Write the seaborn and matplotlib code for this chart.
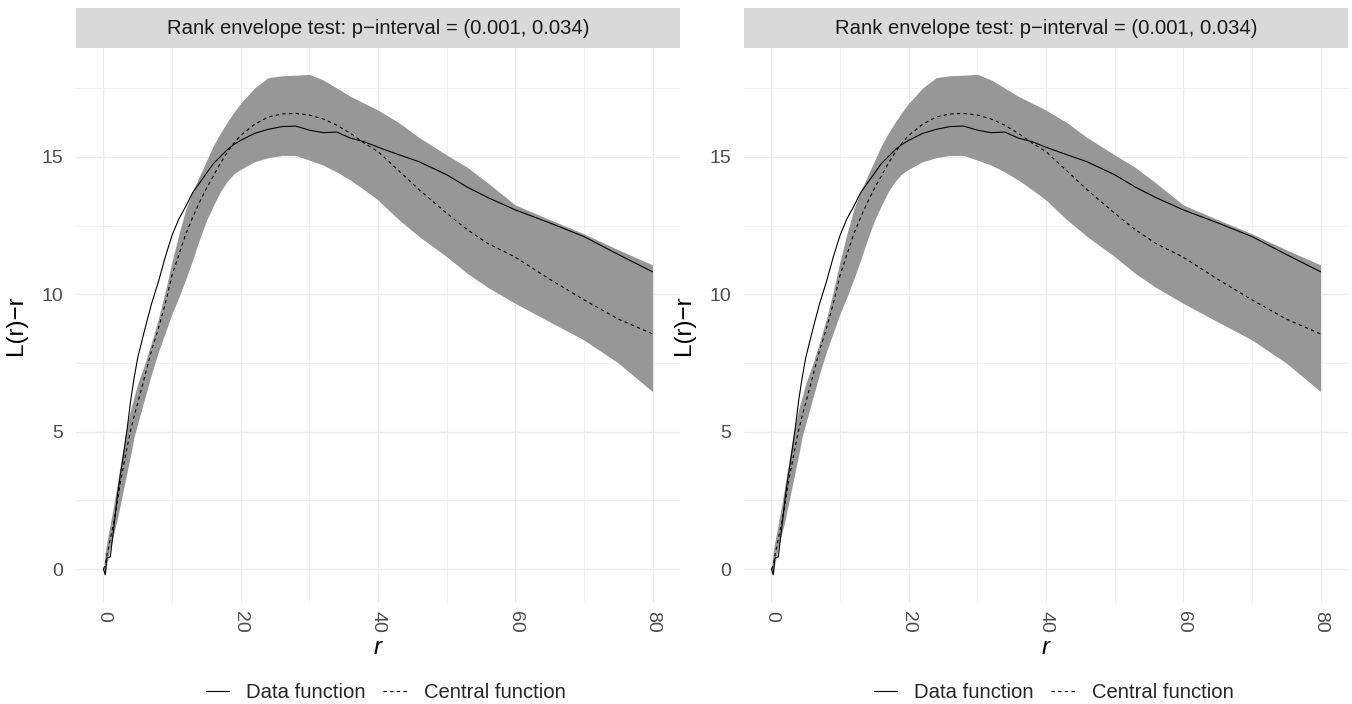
import numpy as np
import pandas as pd
import matplotlib
matplotlib.use("Agg")
import matplotlib.pyplot as plt
import seaborn as sns
from matplotlib.ticker import MultipleLocator

# ---------------- data ----------------
r_vals = [0, 0.25, 0.5, 1, 1.5, 2, 2.5, 3, 3.5, 4, 4.5, 5, 6, 7, 8, 9, 10, 11, 12,
          13, 14, 15, 16, 17, 18, 19, 20, 22, 24, 26, 28, 30, 32, 34, 36, 38, 40,
          43, 46, 50, 53, 56, 60, 65, 70, 75, 80]

data_function = [0.0, -0.2, 0.4, 0.45, 1.5, 2.6, 3.5, 4.3, 5.2, 6.2, 7.0, 7.7, 8.7,
                 9.65, 10.45, 11.35, 12.15, 12.75, 13.2, 13.7, 14.05, 14.4, 14.75, 15.0,
                 15.25, 15.45, 15.6, 15.85, 16.0, 16.1, 16.12, 15.97, 15.88, 15.9,
                 15.68, 15.55, 15.35, 15.08, 14.82, 14.35, 13.9, 13.52, 13.07, 12.6,
                 12.1, 11.45, 10.82]

central_function = [0.0, 0.15, 0.5, 1.1, 1.7, 2.4, 3.2, 3.85, 4.5, 5.1, 5.6, 6.05, 7.0,
                    7.95, 8.75, 9.65, 10.7, 11.45, 12.2, 12.8, 13.35, 13.85, 14.3,
                    14.75, 15.15, 15.5, 15.78, 16.18, 16.45, 16.56, 16.58, 16.52, 16.38,
                    16.15, 15.85, 15.5, 15.19, 14.5, 13.8, 12.95, 12.35, 11.85, 11.35,
                    10.55, 9.8, 9.1, 8.56]

envelope_upper = [0.0, 0.6, 1.0, 1.65, 2.35, 3.1, 3.85, 4.6, 5.3, 5.85, 6.3, 6.75, 7.45,
                  8.25, 9.1, 10.1, 11.2, 12.2, 13.1, 13.75, 14.3, 14.85, 15.4, 15.85,
                  16.25, 16.62, 16.95, 17.5, 17.88, 17.95, 17.97, 18.0, 17.8, 17.5, 17.2,
                  16.95, 16.7, 16.25, 15.7, 15.07, 14.62, 14.05, 13.25, 12.72, 12.2,
                  11.62, 11.07]

envelope_lower = [0.0, -0.25, 0.2, 0.8, 1.3, 1.8, 2.4, 3.0, 3.6, 4.2, 4.85, 5.3, 6.2,
                  7.1, 7.9, 8.6, 9.3, 9.9, 10.55, 11.25, 12.0, 12.68, 13.22, 13.72, 14.1,
                  14.38, 14.55, 14.82, 14.97, 15.05, 15.05, 14.88, 14.7, 14.45, 14.15,
                  13.8, 13.43, 12.72, 12.1, 11.37, 10.76, 10.25, 9.67, 9.0, 8.34, 7.5,
                  6.46]

x_ticks = [0, 20, 40, 60, 80]
y_ticks = [0, 5, 10, 15]
strip_title = "Rank envelope test: p\u2212interval = (0.001, 0.034)"
series_labels = ["Data function", "Central function"]

df = pd.DataFrame({"r": r_vals, "data": data_function, "central": central_function,
                   "lo": envelope_lower, "hi": envelope_upper})

# ---------------- styling ----------------
sns.set_theme(style="white")
plt.rcParams["font.family"] = ["Liberation Sans", "DejaVu Sans"]

W, H = 1352, 704
fig = plt.figure(figsize=(W / 100, H / 100), dpi=100)

panel_left_px = [76, 744]
panel_w, top_px, bot_px = 604, 47.7, 603
strip_h = 39.4

for x0 in panel_left_px:
    ax = fig.add_axes([x0 / W, (H - bot_px) / H, panel_w / W, (bot_px - top_px) / H])
    ax.fill_between(df["r"], df["lo"], df["hi"], color="#979797", lw=0, zorder=2)
    sns.lineplot(data=df, x="r", y="data", ax=ax, color="black", lw=0.8,
                 label=series_labels[0], zorder=3)
    sns.lineplot(data=df, x="r", y="central", ax=ax, color="black", lw=0.8,
                 label=series_labels[1], zorder=3)
    ax.lines[-1].set_dashes([3, 3])

    ax.set_xlim(-4, 84)
    ax.set_ylim(-1.23, 18.97)
    ax.set_xticks(x_ticks)
    ax.set_yticks(y_ticks)
    ax.xaxis.set_minor_locator(MultipleLocator(10))
    ax.yaxis.set_minor_locator(MultipleLocator(2.5))
    ax.set_axisbelow(True)
    ax.grid(which="major", color="#EBEBEB", lw=1.0, zorder=0)
    ax.grid(which="minor", color="#EFEFEF", lw=0.6, zorder=0)
    for s in ax.spines.values():
        s.set_visible(False)
    ax.set_facecolor("white")

    ax.tick_params(which="major", length=4.5, width=1.0, color="#EBEBEB",
                   labelsize=14, labelcolor="#4D4D4D")
    ax.tick_params(which="minor", length=0)
    ax.tick_params(axis="y", pad=5)
    ax.tick_params(axis="x", pad=1, labelrotation=-90)

    ax.set_xlabel("r", fontsize=17.5, style="italic", color="black")
    ax.xaxis.set_label_coords(0.5, -0.06)
    ax.set_ylabel("L(r)\u2212r", fontsize=17.5, color="black")
    ax.yaxis.set_label_coords(-0.081, 0.5)

    handles, labels = ax.get_legend_handles_labels()
    ax.legend(handles, labels, loc="center", bbox_to_anchor=(0.513, -0.162),
              ncol=2, frameon=False, fontsize=14.6, handlelength=1.15,
              handletextpad=0.85, columnspacing=0.85, borderaxespad=0)

    sax = fig.add_axes([x0 / W, (H - top_px) / H, panel_w / W, strip_h / H])
    sax.set_facecolor("#D9D9D9")
    sax.set_xticks([])
    sax.set_yticks([])
    for s in sax.spines.values():
        s.set_visible(False)
    sax.text(0.5, 0.5, strip_title, ha="center", va="center", fontsize=14.6,
             color="#1A1A1A", transform=sax.transAxes)

fig.savefig("out.png", dpi=100, facecolor="white")
